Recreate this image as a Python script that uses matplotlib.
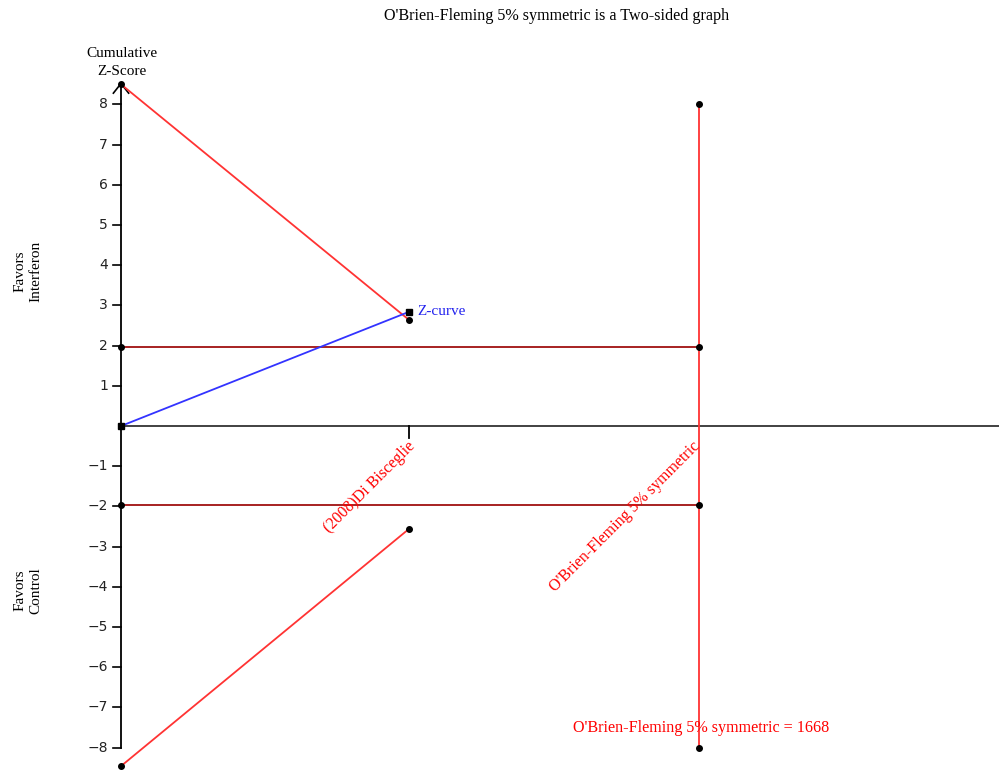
import matplotlib
matplotlib.use("Agg")
import matplotlib.pyplot as plt

# Trial sequential analysis: cumulative information (patients) and Z values
trial_labels = ["(2008)Di Bisceglie"]
info_start = 0
trial_info = [831]
required_info = 1668
ris_label = "O'Brien-Fleming 5% symmetric"

z_curve = [0.0, 2.84]                 # cumulative Z at 0 and after each trial
upper_boundary = [8.5, 2.64]          # alpha-spending boundary, favours interferon
lower_boundary = [-8.46, -2.56]       # alpha-spending boundary, favours control
conventional = 1.96                   # conventional significance line
ris_span = [8, -8]                    # vertical extent of the RIS line
y_ticks = [8, 7, 6, 5, 4, 3, 2, 1, -1, -2, -3, -4, -5, -6, -7, -8]

serif = "Liberation Serif"
red = "#ff3333"
dark_red = "#a01010"

fig = plt.figure(figsize=(9.99, 7.7), dpi=100)
ax = fig.add_axes([0, 0, 1, 1])
ax.set_xlim(-349.2, 2533.7)
ax.set_ylim(-8.557, 10.597)
ax.axis("off")

xs = [info_start] + trial_info

# Axes drawn by hand
ax.plot([info_start, 2533.7], [0, 0], color="#333333", lw=1.3, zorder=2)
ax.plot([info_start, info_start], [-8, 8.5], color="black", lw=1.3, zorder=2)
ax.plot([info_start - 22, info_start, info_start + 22], [8.28, 8.52, 8.28],
        color="black", lw=1.2, zorder=2)
for t in y_ticks:
    ax.plot([info_start - 23, info_start], [t, t], color="black", lw=1.2)
    ax.text(info_start - 38, t, f"{t}".replace("-", "\u2212"), ha="right", va="center",
            fontsize=10, family="DejaVu Sans", color="#222222")
for x in trial_info:
    ax.plot([x, x], [0, -0.3], color="black", lw=1.3)

# Conventional boundaries
for z in (conventional, -conventional):
    ax.plot([info_start, required_info], [z, z], color=dark_red, lw=1.3, zorder=3)
    ax.plot([info_start, required_info], [z, z], "o", color="black", ms=4, zorder=5)

# Required information size line
ax.plot([required_info, required_info], ris_span, color=red, lw=1.3, zorder=3)
ax.plot([required_info] * 2, ris_span, "o", color="black", ms=4, zorder=5)

# Monitoring boundaries
ax.plot(xs, upper_boundary, color=red, lw=1.3, zorder=3)
ax.plot(xs, upper_boundary, "o", color="black", ms=4, zorder=5)
ax.plot(xs, lower_boundary, color=red, lw=1.3, zorder=3)
ax.plot(xs, lower_boundary, "o", color="black", ms=4, zorder=5)

# Z-curve
ax.plot(xs, z_curve, color="#3333ff", lw=1.3, zorder=4)
ax.plot(xs, z_curve, "s", color="black", ms=5, zorder=6)
ax.text(trial_info[-1] + 25, z_curve[-1], "Z-curve", color="#2222ee",
        fontsize=11, family=serif, ha="left", va="center")

# Rotated labels
for x, lab in zip(trial_info, trial_labels):
    ax.text(x - 5, -0.3, lab, rotation=45, rotation_mode="anchor", ha="right",
            va="top", color="red", fontsize=11.5, family=serif)
ax.text(required_info - 20, -0.3, ris_label, rotation=45, rotation_mode="anchor",
        ha="right", va="top", color="red", fontsize=11.5, family=serif)
ax.text(1305, -7.52, f"{ris_label} = {required_info}", color="red",
        fontsize=11.6, family=serif, ha="left", va="center")

# Titles and side labels
fig.text(0.5575, 0.979, "O'Brien-Fleming 5% symmetric is a Two-sided graph",
         ha="center", va="center", fontsize=11.6, family=serif)
fig.text(0.122, 0.919, "Cumulative\nZ-Score", ha="center", va="center",
         fontsize=11, family=serif, linespacing=1.5)
fig.text(0.028, 0.648, "Favors\nInterferon", ha="center", va="center",
         rotation=90, fontsize=11, family=serif, linespacing=1.3)
fig.text(0.028, 0.233, "Favors\nControl", ha="center", va="center",
         rotation=90, fontsize=11, family=serif, linespacing=1.3)

fig.savefig("out.png", dpi=100)
